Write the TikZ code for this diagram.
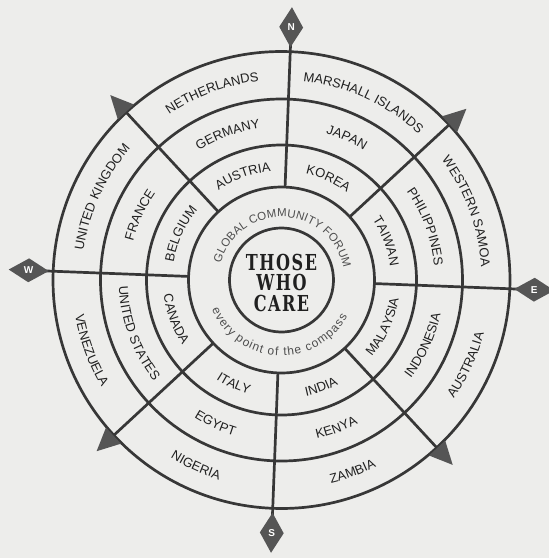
\documentclass[tikz,border=0pt]{standalone}
\usepackage{fontspec}
\setmainfont{Liberation Sans}
\newfontfamily\lblfont{Liberation Sans}
\newfontfamily\slabfont{DejaVu Serif}[FakeStretch=0.73,LetterSpace=7]
\usetikzlibrary{decorations.text}
\definecolor{bg}{RGB}{237,237,235}
\definecolor{ink}{RGB}{55,55,55}
\definecolor{txt}{RGB}{32,32,32}
\definecolor{soft}{RGB}{78,78,78}
\definecolor{markgray}{RGB}{85,85,85}
\newcommand\lblstyle{\lblfont\fontsize{13}{15}\selectfont}
\newcommand\arclbl[4]{\path[decorate,decoration={text along path,text color=txt,text align=center,text={|\lblstyle|#4}}] (#1:#3pt) arc[start angle=#1,end angle=#2,radius=#3pt];}
\tikzset{
  ring/.style={draw=ink,line width=2.7pt},
  spoke/.style={draw=ink,line width=2.7pt},
  pointer/.style={fill=markgray},
  compassletter/.style={text=white,font=\lblfont\bfseries\fontsize{10}{10}\selectfont,inner sep=0pt},
  slab/.style={text=txt,font=\slabfont\bfseries\fontsize{22}{22}\selectfont,inner sep=0pt}
}
\begin{document}
\begin{tikzpicture}
\fill[bg] (-281.5pt,-278pt) rectangle (267.5pt,280pt);
\useasboundingbox (-281.5pt,-278pt) rectangle (267.5pt,280pt);
\begin{scope}[rotate=-2.2]
  % spokes
  \foreach \a in {0,45,...,315} \draw[spoke] (\a:93pt) -- (\a:240pt);
  % rings
  \foreach \r in {52,93,135,181,228.5} \draw[ring] (0,0) circle[radius=\r pt];
  % diagonal pointers
  \foreach \a in {45,135,225,315}
    \fill[pointer] (\a:252pt) -- ({\a+2.75}:229.3pt) -- ({\a-2.75}:229.3pt) -- cycle;
  % cardinal diamonds
  \foreach \a/\l in {90/N,0/E,270/S,180/W}{
    \fill[pointer] (\a:233pt) -- ({\a+2.7}:253.3pt) -- (\a:273pt) -- ({\a-2.7}:253.3pt) -- cycle;
    \node[compassletter] (mark\l) at (\a:253pt) {\l};
  }
  % ring 3
  \arclbl{135}{90}{109.3}{AUSTRIA}
  \arclbl{90}{45}{109.3}{KOREA}
  \arclbl{45}{0}{109.3}{TAIWAN}
  \arclbl{180}{135}{109.3}{BELGIUM}
  \arclbl{-45}{0}{118.7}{MALAYSIA}
  \arclbl{-90}{-45}{118.7}{INDIA}
  \arclbl{-135}{-90}{118.7}{ITALY}
  \arclbl{-180}{-135}{118.7}{CANADA}
  % ring 4
  \arclbl{135}{90}{153.3}{GERMANY}
  \arclbl{90}{45}{153.3}{JAPAN}
  \arclbl{45}{0}{153.3}{PHILIPPINES}
  \arclbl{180}{135}{153.3}{FRANCE}
  \arclbl{-45}{0}{162.7}{INDONESIA}
  \arclbl{-90}{-45}{162.7}{KENYA}
  \arclbl{-135}{-90}{162.7}{EGYPT}
  \arclbl{-180}{-135}{162.7}{UNITED STATES}
  % ring 5
  \arclbl{135}{90}{200.1}{NETHERLANDS}
  \arclbl{90}{45}{200.1}{MARSHALL ISLANDS}
  \arclbl{45}{0}{200.1}{WESTERN SAMOA}
  \arclbl{180}{135}{200.1}{UNITED KINGDOM}
  \arclbl{-45}{0}{209.4}{AUSTRALIA}
  \arclbl{-90}{-45}{209.4}{ZAMBIA}
  \arclbl{-135}{-90}{209.4}{NIGERIA}
  \arclbl{-180}{-135}{209.4}{VENEZUELA}
  % inner ring texts
  \path[decorate,decoration={text along path,text color=soft,text align={fit to path},
    text={|\lblfont\fontsize{11.5}{11.5}\selectfont|GLOBAL COMMUNITY FORUM}}]
    (167:63pt) arc[start angle=167,end angle=13,radius=63pt];
  \path[decorate,decoration={text along path,text color=soft,text align={fit to path},
    text={|\lblfont\fontsize{12}{12}\selectfont|every point of the compass}}]
    (205:75.5pt) arc[start angle=205,end angle=333,radius=75.5pt];
\end{scope}
\node[slab] (t1) at (0,18pt) {THOSE};
\node[slab] (t2) at (0,-2pt) {WHO};
\node[slab] (t3) at (0,-23.5pt) {CARE};
\end{tikzpicture}
\end{document}
